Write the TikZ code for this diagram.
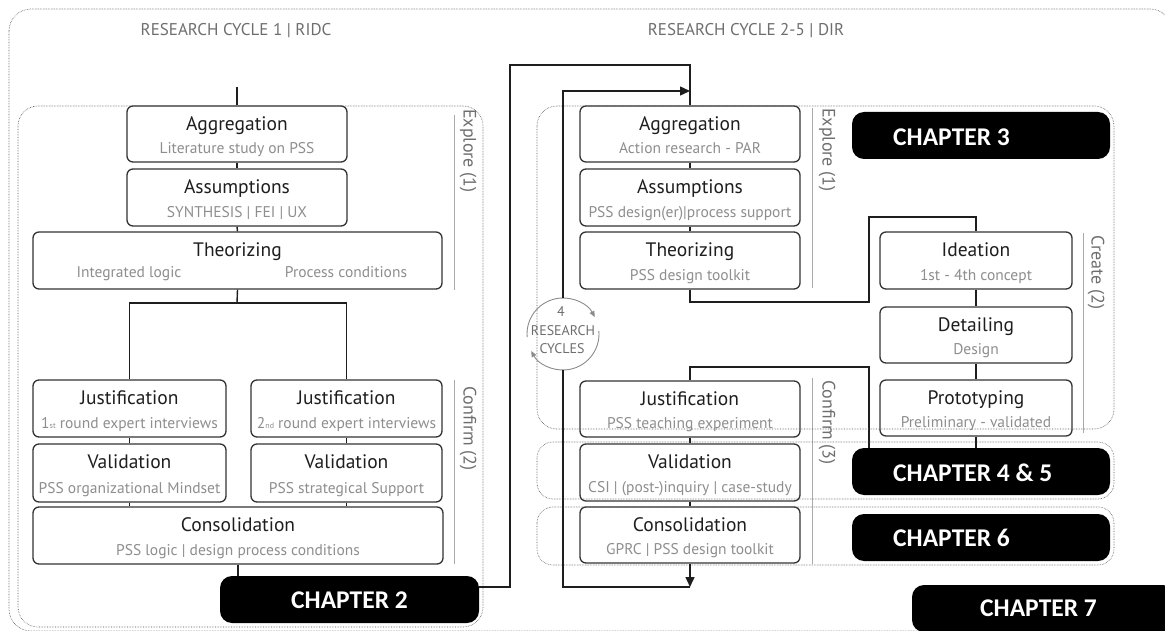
\documentclass[tikz,border=0pt]{standalone}
\usepackage{fontspec}
\setmainfont{PT Sans}
\newfontfamily\chapfont{Carlito}
\usetikzlibrary{arrows.meta,calc}

\definecolor{ink}{HTML}{1E1E1E}
\definecolor{boxline}{HTML}{333333}
\definecolor{subgray}{HTML}{8E8E8E}
\definecolor{labgray}{HTML}{6E6E6E}
\definecolor{dotgray}{HTML}{505050}
\definecolor{ruleg}{HTML}{AAAAAA}

\tikzset{
  stagebox/.style={draw=boxline, line width=1.3pt, rounded corners=6pt, fill=white, inner sep=0pt},
  stagetitle/.style={text=ink, font=\fontsize{19.5}{21}\selectfont, inner sep=0pt, anchor=base},
  stagesub/.style={text=subgray, font=\fontsize{15.5}{17}\selectfont, inner sep=0pt, anchor=base},
  chapbox/.style={fill=black, rounded corners=12pt, inner sep=0pt},
  chaptext/.style={text=white, font=\chapfont\bfseries\fontsize{25.5}{28}\selectfont, inner sep=0pt},
  zone/.style={draw=dotgray, densely dotted, line width=0.6pt, rounded corners=20pt},
  phase/.style={text=labgray, font=\fontsize{18}{20}\selectfont, rotate=-90, inner sep=0pt, anchor=west},
  phaserule/.style={draw=ruleg, line width=0.9pt},
  flow/.style={draw=ink, line width=1.4pt},
  tip/.style={-{Triangle[length=10pt,width=9pt]}},
  cycletitle/.style={text=labgray, font=\fontsize{17}{19}\selectfont, inner sep=0pt},
  cyclelabel/.style={text=labgray, font=\fontsize{14}{15}\selectfont, inner sep=0pt},
  cyclearc/.style={draw=labgray!80, line width=0.9pt, -{Triangle[length=6pt,width=5pt]}},
}

% stage box: name, x1, y1, x2, y2, title, subtitle
\newcommand\stage[7]{%
  \node[stagebox, minimum width={#4pt-#2pt}, minimum height={#5pt-#3pt}] (#1) at ({(#2+#4)/2},{(#3+#5)/2}) {};
  \node[stagetitle] (#1-t) at ($(#1.north)+(0,25)$) {#6};
  \node[stagesub] (#1-s) at ($(#1.south)+(0,-9)$) {#7};
}
\newcommand\ordsuf[1]{{\fontsize{8}{8}\selectfont #1}}

\begin{document}
\begin{tikzpicture}[x=1pt,y=-1pt]
\useasboundingbox (0,0) rectangle (1165,631);

% cycle headings
\node[cycletitle] (head1) at (236,31) {RESEARCH CYCLE 1 | RIDC};
\node[cycletitle] (head2) at (746,31) {RESEARCH CYCLE 2-5 | DIR};

% phase markers
\draw[phaserule] (454,115) -- (454,290);
\draw[phaserule] (454,380) -- (454,564);
\draw[phaserule] (812,108) -- (812,288);
\draw[phaserule] (1083,233) -- (1083,433);
\draw[phaserule] (812,378) -- (812,564);
\node[phase] (ph1) at (468,109) {Explore (1)};
\node[phase] (ph2) at (468,386) {Confirm (2)};
\node[phase] (ph3) at (827,108) {Explore (1)};
\node[phase] (ph4) at (1096,235) {Create (2)};
\node[phase] (ph5) at (827,380) {Confirm (3)};

% ---------------- research cycle 1 ----------------
\stage{agg1}{127}{106}{347}{162}{Aggregation}{Literature study on PSS}
\stage{ass1}{127}{169}{347}{226}{Assumptions}{SYNTHESIS | FEI | UX}
\stage{the1}{33}{232}{442}{289}{Theorizing}{}
\node[stagesub] (the1-a) at (129,277) {Integrated logic};
\node[stagesub] (the1-b) at (346,277) {Process conditions};
\stage{jus1a}{33}{380}{226}{437}{Justification}{1\ordsuf{st} round expert interviews}
\stage{jus1b}{251}{380}{442}{437}{Justification}{2\ordsuf{nd} round expert interviews}
\stage{val1a}{33}{444}{226}{502}{Validation}{PSS organizational Mindset}
\stage{val1b}{251}{444}{442}{502}{Validation}{PSS strategical Support}
\stage{con1}{33}{507}{443}{564}{Consolidation}{PSS logic | design process conditions}

\coordinate (in1) at (237,87);
\coordinate (split1) at (237,303);
\draw[flow] (in1) -- (agg1.north);
\draw[flow] (agg1.south) -- (ass1.north);
\draw[flow] (ass1.south) -- (the1.north);
\draw[flow] (the1.south) -- (split1);
\draw[flow] (jus1a.north) |- (split1) -| (jus1b.north);
\draw[flow] (jus1a.south) -- (val1a.north);
\draw[flow] (jus1b.south) -- (val1b.north);
\draw[flow] (val1a.south) -- (val1a.south |- con1.north);
\draw[flow] (val1b.south) -- (val1b.south |- con1.north);

% ---------------- research cycles 2-5 ----------------
\stage{agg2}{580}{106}{800}{162}{Aggregation}{Action research - PAR}
\stage{ass2}{580}{169}{800}{226}{Assumptions}{PSS design(er)|process support}
\stage{the2}{580}{232}{800}{289}{Theorizing}{PSS design toolkit}
\stage{ide}{880}{232}{1072}{289}{Ideation}{1st - 4th concept}
\stage{det}{880}{307}{1072}{363}{Detailing}{Design}
\stage{pro}{880}{380}{1072}{436}{Prototyping}{Preliminary - validated}
\stage{jus2}{580}{381}{800}{437}{Justification}{PSS teaching experiment}
\stage{val2}{580}{444}{800}{501}{Validation}{CSI | (post-)inquiry | case-study}
\stage{con2}{580}{507}{800}{563}{Consolidation}{GPRC | PSS design toolkit}

\draw[flow] (agg2.south) -- (ass2.north);
\draw[flow] (ass2.south) -- (the2.north);
\coordinate (t1) at (690,302);
\coordinate (t2) at (869,302);
\coordinate (t3) at (869,217);
\coordinate (t4) at (976,217);
\draw[flow] (the2.south) -- (t1) -- (t2) -- (t3) -- (t4) -- (ide.north);
\draw[flow] (ide.south) -- (det.north);
\draw[flow] (det.south) -- (pro.north);
\coordinate (p1) at (976,470);
\coordinate (p2) at (869,470);
\coordinate (p3) at (869,367);
\coordinate (p4) at (690,367);
\draw[flow] (pro.south) -- (p1) -- (p2) -- (p3) -- (p4) -- (jus2.north);
\draw[flow] (jus2.south) -- (val2.north);
\draw[flow] (val2.south) -- (val2.north |- con2.north);

% grouping zones
\draw[zone, rounded corners=22pt] (9,9) rectangle (1172,631);
\draw[zone] (18,106) rectangle (483,627);
\draw[zone] (537,106) rectangle (1114,429);
\draw[zone, rounded corners=16pt] (537,442) rectangle (1114,499);
\draw[zone, rounded corners=16pt] (537,507) rectangle (1114,565);

% repeat loop of the four research cycles
\node[circle, minimum size=72pt, inner sep=0pt] (circ) at (563,334) {};
\node[cyclelabel] (circ-n) at (561,312) {4};
\node[cyclelabel] (circ-a) at (563,331) {RESEARCH};
\node[cyclelabel] (circ-b) at (562,349) {CYCLES};
\draw[cyclearc] ([shift={(-185:36)}]circ.center) arc[start angle=-185, end angle=-28, radius=36];
\draw[cyclearc] ([shift={(-5:36)}]circ.center) arc[start angle=-5, end angle=152, radius=36];

\coordinate (lp1) at (563,91);
\coordinate (lp2) at (690,91);
\coordinate (lp3) at (690,587);
\coordinate (lp4) at (563,587);
\draw[flow, tip] (circ.north) -- (lp1) -- (lp2);
\draw[flow, tip] (con2.south) -- (lp3);
\draw[flow] (lp3) -- (lp4) -- (circ.south);

% chapter tags
\node[chapbox, minimum width=259pt, minimum height=47pt] (ch2) at (349.5,599.5) {};
\node[chaptext] (ch2-t) at (349.5,600) {CHAPTER 2};
\node[chapbox, minimum width=258pt, minimum height=47pt] (ch3) at (981,135.5) {};
\node[chaptext, anchor=west] (ch3-t) at (893,137) {CHAPTER 3};
\node[chapbox, minimum width=258pt, minimum height=47pt] (ch45) at (981,471.5) {};
\node[chaptext, anchor=west] (ch45-t) at (893,473) {CHAPTER 4 \& 5};
\node[chapbox, minimum width=258pt, minimum height=47pt] (ch6) at (981,537.5) {};
\node[chaptext, anchor=west] (ch6-t) at (893,538) {CHAPTER 6};
\node[chapbox, minimum width=263pt, minimum height=47pt] (ch7) at (1043.5,608.5) {};
\node[chaptext, anchor=west] (ch7-t) at (980,608) {CHAPTER 7};

% hand-over from cycle 1 to cycles 2-5
\draw[flow] (con1.south) -- (con1.south |- ch2.north);
\coordinate (up1) at (510,587);
\coordinate (up2) at (510,65);
\coordinate (up3) at (690,65);
\draw[flow] (ch2.east |- up1) -- (up1) -- (up2) -- (up3) -- (agg2.north);

\end{tikzpicture}
\end{document}
